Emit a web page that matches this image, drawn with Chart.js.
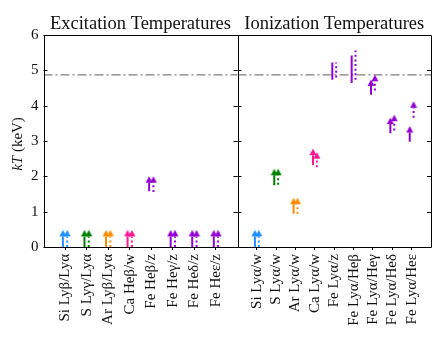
<!DOCTYPE html>
<html><head><meta charset="utf-8">
<script src="https://cdn.jsdelivr.net/npm/chart.js@4"></script>
<style>
html,body{margin:0;padding:0;background:#fff;}
#wrap{position:relative;width:436px;height:343px;overflow:hidden;}
canvas{position:absolute;top:0;}
</style>
</head><body>
<div id="wrap">
<canvas id="cL" width="238" height="343" style="left:0"></canvas>
<canvas id="cR" width="199" height="343" style="left:237px"></canvas>
</div>
<script>
// ---------- data ----------
const excCategories = ['Si Lyβ/Lyα','S Lyγ/Lyα','Ar Lyβ/Lyα','Ca Heβ/w','Fe Heβ/z','Fe Heγ/z','Fe Heδ/z','Fe Heε/z'];
const excSolidLow  = [0, 0, 0, 0, 1.58, 0, 0, 0];
const excSolidHigh = [0.3, 0.3, 0.3, 0.3, 1.82, 0.3, 0.3, 0.3];
const excSolidArrow = [true, true, true, true, true, true, true, true];
const excDotLow  = [0, 0, 0, 0, 1.56, 0, 0, 0];
const excDotHigh = [0.3, 0.3, 0.3, 0.3, 1.82, 0.3, 0.3, 0.3];
const excDotArrow = [true, true, true, true, true, true, true, true];

const ionCategories = ['Si Lyα/w','S Lyα/w','Ar Lyα/w','Ca Lyα/w','Fe Lyα/z','Fe Lyα/Heβ','Fe Lyα/Heγ','Fe Lyα/Heδ','Fe Lyα/Heε'];
const ionSolidLow  = [0, 1.75, 0.94, 2.32, 4.73, 4.64, 4.31, 3.22, 2.98];
const ionSolidHigh = [0.3, 2.03, 1.21, 2.60, 5.22, 5.42, 4.56, 3.48, 3.24];
const ionSolidArrow = [true, true, true, true, false, false, true, true, true];
const ionDotLow  = [0, 1.76, 0.94, 2.26, 4.80, 4.73, 4.43, 3.30, 3.66];
const ionDotHigh = [0.3, 2.03, 1.21, 2.50, 5.22, 5.56, 4.69, 3.56, 3.94];
const ionDotArrow = [true, true, true, true, false, false, true, true, true];

const referenceKT = 4.87;
const yTickValues = [0, 1, 2, 3, 4, 5, 6];

// ---------- styles ----------
const excColors = ['#1E90FF','#008000','#FF8C00','#FF1493','#9400D3','#9400D3','#9400D3','#9400D3'];
const ionColors = ['#1E90FF','#008000','#FF8C00','#FF1493','#9400D3','#9400D3','#9400D3','#9400D3','#9400D3'];
const SERIF = '"Liberation Serif", "DejaVu Serif", serif';

const arrowCache = {};
function arrowImg(color) {
  if (arrowCache[color]) return arrowCache[color];
  const c = document.createElement('canvas');
  c.width = 8; c.height = 14;
  const g = c.getContext('2d');
  g.fillStyle = color;
  g.beginPath();
  g.moveTo(4, 0.5); g.lineTo(7.5, 7); g.lineTo(0.5, 7); g.closePath();
  g.fill();
  arrowCache[color] = c;
  return c;
}

function segData(cats, lo, hi, off) {
  const pts = [];
  cats.forEach((_, i) => {
    pts.push({x: i + off, y: lo[i]}, {x: i + off, y: hi[i]}, {x: i + off, y: null});
  });
  return pts;
}
function arrowData(cats, hi, flags, off, colors) {
  const pts = [], styles = [];
  cats.forEach((_, i) => {
    if (flags[i]) { pts.push({x: i + off, y: hi[i]}); styles.push(arrowImg(colors[i])); }
  });
  return {pts, styles};
}

function buildDatasets(cats, colors, sLo, sHi, sAr, dLo, dHi, dAr) {
  const OFF = 0.1;
  const sa = arrowData(cats, sHi, sAr, -OFF, colors);
  const da = arrowData(cats, dHi, dAr, OFF, colors);
  return [
    {
      data: [{x: -1, y: referenceKT}, {x: cats.length, y: referenceKT}],
      borderColor: '#7f7f7f', borderWidth: 1.3, borderDash: [9, 3, 2, 3],
      pointRadius: 0, order: 10
    },
    {
      data: segData(cats, sLo, sHi, -OFF),
      borderWidth: 2, pointRadius: 0, spanGaps: false, order: 1,
      borderColor: colors[0],
      segment: { borderColor: c => colors[Math.floor(c.p0DataIndex / 3)] }
    },
    {
      data: segData(cats, dLo, dHi, OFF),
      borderWidth: 2, pointRadius: 0, spanGaps: false, order: 1,
      borderDash: [2, 2.6], borderCapStyle: 'butt',
      borderColor: colors[0],
      segment: { borderColor: c => colors[Math.floor(c.p0DataIndex / 3)] }
    },
    {
      data: sa.pts, showLine: false, pointStyle: sa.styles, pointRadius: 3, order: 0
    },
    {
      data: da.pts, showLine: false, pointStyle: da.styles, pointRadius: 3, order: 0
    }
  ];
}

const framePlugin = {
  id: 'frame',
  afterDraw(chart, args, opts) {
    const {ctx, chartArea: a} = chart;
    const y = chart.scales.y;
    ctx.save();
    ctx.strokeStyle = '#000';
    ctx.lineWidth = 1;
    ctx.beginPath();
    ctx.rect(Math.round(a.left) + 0.5, Math.round(a.top) + 0.5, Math.round(a.right) - Math.round(a.left), Math.round(a.bottom) - Math.round(a.top));
    yTickValues.forEach(v => {
      const py = Math.round(y.getPixelForValue(v)) + 0.5;
      ctx.moveTo(a.left, py); ctx.lineTo(a.left + 4, py);
      ctx.moveTo(a.right, py); ctx.lineTo(a.right - 4, py);
    });
    ctx.stroke();
    ctx.fillStyle = '#111';
    ctx.font = '18.5px ' + SERIF;
    ctx.textAlign = 'center';
    ctx.textBaseline = 'alphabetic';
    ctx.fillText(opts.text, (a.left + a.right) / 2, 28.5);
    if (opts.ylabel) {
      ctx.translate(18, (a.top + a.bottom) / 2 + 3);
      ctx.rotate(-Math.PI / 2);
      const f1 = 'italic 15px ' + SERIF, f2 = '15px ' + SERIF;
      ctx.font = f1; const w1 = ctx.measureText('kT').width;
      ctx.font = f2; const w2 = ctx.measureText(' (keV)').width;
      const start = -(w1 + w2) / 2;
      ctx.textAlign = 'left';
      ctx.textBaseline = 'middle';
      ctx.font = f1; ctx.fillText('kT', start, 0);
      ctx.font = f2; ctx.fillText(' (keV)', start + w1, 0);
    }
    ctx.restore();
  }
};

function makeChart(id, cats, colors, datasets, opts) {
  return new Chart(document.getElementById(id), {
    type: 'line',
    data: { datasets },
    plugins: [framePlugin],
    options: {
      responsive: false, animation: false, devicePixelRatio: 1,
      layout: { autoPadding: false, padding: { top: 35, left: opts.padLeft, right: opts.padRight, bottom: 0 } },
      plugins: {
        legend: { display: false }, tooltip: { enabled: false },
        frame: { text: opts.title, ylabel: opts.ylabel }
      },
      scales: {
        x: {
          type: 'linear', min: -1, max: cats.length,
          afterBuildTicks: s => { s.ticks = cats.map((_, i) => ({value: i})); },
          afterFit: s => { s.height = 96; s.paddingLeft = 0; s.paddingRight = 0; },
          ticks: {
            callback: v => cats[v] !== undefined ? cats[v] : '',
            autoSkip: false, minRotation: 90, maxRotation: 90,
            font: { family: SERIF, size: 15 }, color: '#111', padding: 4
          },
          grid: { display: true, drawOnChartArea: false, drawTicks: true, tickLength: 3, color: '#000' },
          border: { display: false }
        },
        y: {
          display: opts.showY, min: 0, max: 6,
          afterBuildTicks: s => { s.ticks = yTickValues.map(v => ({value: v})); },
          afterFit: s => { if (opts.showY) s.width = 43.5; },
          ticks: { font: { family: SERIF, size: 15 }, color: '#111', padding: 5 },
          grid: { display: false, drawTicks: false },
          border: { display: false }
        }
      }
    }
  });
}

makeChart('cL', excCategories, excColors,
  buildDatasets(excCategories, excColors, excSolidLow, excSolidHigh, excSolidArrow, excDotLow, excDotHigh, excDotArrow),
  { title: 'Excitation Temperatures', ylabel: true, showY: true, padLeft: 0, padRight: 0.5 });

makeChart('cR', ionCategories, ionColors,
  buildDatasets(ionCategories, ionColors, ionSolidLow, ionSolidHigh, ionSolidArrow, ionDotLow, ionDotHigh, ionDotArrow),
  { title: 'Ionization Temperatures', ylabel: false, showY: false, padLeft: 0.5, padRight: 5 });
</script>
</body></html>
